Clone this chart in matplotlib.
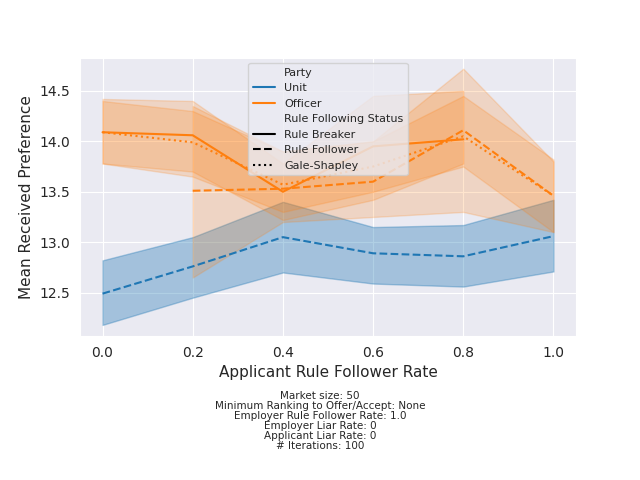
import matplotlib
matplotlib.use("Agg")
import matplotlib.pyplot as plt
import seaborn as sns
from matplotlib.lines import Line2D
import numpy as np

sns.set_style("darkgrid")

rates = [0.0, 0.2, 0.4, 0.6, 0.8, 1.0]

# Unit, rule follower
unit_mean = [12.49, 12.76, 13.05, 12.89, 12.86, 13.06]
unit_lo = [12.18, 12.45, 12.70, 12.59, 12.56, 12.71]
unit_hi = [12.82, 13.05, 13.40, 13.15, 13.17, 13.42]

# Officer, rule breaker
off_rb_x = [0.0, 0.2, 0.4, 0.6, 0.8]
off_rb_mean = [14.09, 14.06, 13.50, 13.95, 14.02]
off_rb_lo = [13.78, 13.70, 13.22, 13.42, 13.78]
off_rb_hi = [14.42, 14.40, 13.78, 14.45, 14.50]

# Officer, rule follower
off_rf_x = [0.2, 0.4, 0.6, 0.8, 1.0]
off_rf_mean = [13.51, 13.53, 13.60, 14.11, 13.46]
off_rf_lo = [12.65, 13.20, 13.25, 13.30, 13.10]
off_rf_hi = [14.35, 13.90, 14.00, 14.72, 13.80]

# Officer, Gale-Shapley
off_gs_mean = [14.09, 13.99, 13.57, 13.75, 14.05, 13.46]
off_gs_lo = [13.78, 13.65, 13.30, 13.50, 13.75, 13.10]
off_gs_hi = [14.40, 14.30, 13.90, 14.00, 14.45, 13.82]

blue = "#1f77b4"
orange = "#ff7f0e"

fig, ax = plt.subplots(figsize=(6.4, 4.8))
fig.subplots_adjust(left=0.125, right=0.9, top=0.88, bottom=0.3)

ax.fill_between(rates, unit_lo, unit_hi, color=blue, alpha=0.35, lw=1)
ax.plot(rates, unit_mean, color=blue, ls="--", lw=1.5)
ax.fill_between(off_rb_x, off_rb_lo, off_rb_hi, color=orange, alpha=0.2, lw=1)
ax.plot(off_rb_x, off_rb_mean, color=orange, ls="-", lw=1.5)
ax.fill_between(off_rf_x, off_rf_lo, off_rf_hi, color=orange, alpha=0.2, lw=1)
ax.plot(off_rf_x, off_rf_mean, color=orange, ls="--", lw=1.5)
ax.fill_between(rates, off_gs_lo, off_gs_hi, color=orange, alpha=0.2, lw=1)
ax.plot(rates, off_gs_mean, color=orange, ls=":", lw=1.5)

ax.set_xlabel("Applicant Rule Follower Rate", fontsize=11)
ax.set_ylabel("Mean Received Preference", fontsize=11)
ax.set_yticks([12.5, 13.0, 13.5, 14.0, 14.5])
ax.set_ylim(12.07, 14.83)
ax.set_xlim(-0.05, 1.05)

blank = Line2D([], [], color="none")
handles = [blank, Line2D([], [], color=blue, lw=1.5), Line2D([], [], color=orange, lw=1.5),
           blank, Line2D([], [], color="k", lw=1.5), Line2D([], [], color="k", ls="--", lw=1.5),
           Line2D([], [], color="k", ls=":", lw=1.5)]
labels = ["Party", "Unit", "Officer", "Rule Following Status", "Rule Breaker", "Rule Follower", "Gale-Shapley"]
ax.legend(handles, labels, loc="upper center", bbox_to_anchor=(0.5, 1.0), fontsize=8, handlelength=2)

caption = ("Market size: 50\nMinimum Ranking to Offer/Accept: None\nEmployer Rule Follower Rate: 1.0\n"
           "Employer Liar Rate: 0\nApplicant Liar Rate: 0\n# Iterations: 100")
fig.text(0.5, 0.06, caption, ha="center", va="bottom", fontsize=7.5, linespacing=1.0)

fig.savefig("out.png", dpi=100)
